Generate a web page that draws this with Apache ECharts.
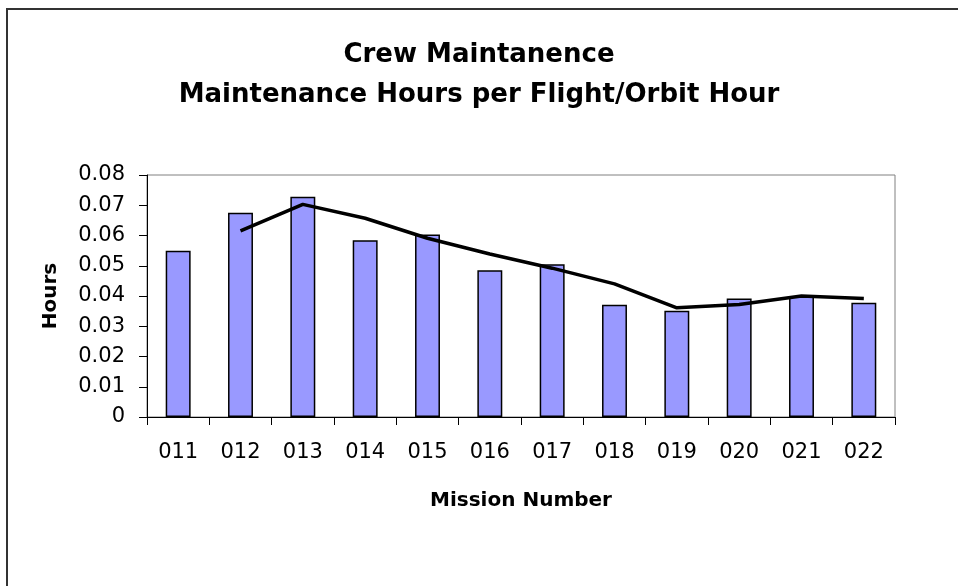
<!DOCTYPE html>
<html>
<head>
<meta charset="utf-8">
<script src="https://cdn.jsdelivr.net/npm/echarts@6/dist/echarts.min.js"></script>
<style>
  html, body { margin: 0; padding: 0; background: #fff; }
  #chart { width: 958px; height: 586px; }
</style>
</head>
<body>
<div id="chart"></div>
<script>
// mission numbers on the x axis
var missions = ['011', '012', '013', '014', '015', '016', '017', '018', '019', '020', '021', '022']
// maintenance hours per flight/orbit hour (bars)
var hours = [0.055, 0.0675, 0.0728, 0.0584, 0.0603, 0.0485, 0.0505, 0.0371, 0.0351, 0.0392, 0.0398, 0.0378]
// trend line (starts at 012)
var trend = ['-', 0.0615, 0.0703, 0.0657, 0.0591, 0.0539, 0.0492, 0.044, 0.0361, 0.0372, 0.04, 0.0392]

var font = 'DejaVu Sans, Liberation Sans, sans-serif'
var chart = echarts.init(document.getElementById('chart'))
chart.setOption({
  backgroundColor: '#fff',
  animation: false,
  title: {
    text: 'Crew Maintanence\nMaintenance Hours per Flight/Orbit Hour',
    left: 'center',
    top: 30,
    textStyle: {
      fontFamily: font,
      fontSize: 26,
      fontWeight: 'bold',
      color: '#000',
      lineHeight: 40
    }
  },
  graphic: [{
    // outer frame
    type: 'rect',
    shape: { x: 7, y: 9, width: 1000, height: 700 },
    style: { fill: null, stroke: '#333', lineWidth: 2 },
    silent: true
  }],
  grid: {
    left: 147,
    right: 63,
    top: 175,
    bottom: 169,
    show: true,
    borderColor: '#808080',
    borderWidth: 1,
    backgroundColor: '#fff'
  },
  xAxis: {
    type: 'category',
    data: missions,
    name: 'Mission Number',
    nameLocation: 'middle',
    nameGap: 74,
    nameTextStyle: { fontFamily: font, fontSize: 20, fontWeight: 'bold', color: '#000' },
    axisLine: { lineStyle: { color: '#000', width: 1 } },
    axisTick: { show: true, length: 8, lineStyle: { color: '#000' } },
    axisLabel: { fontFamily: font, fontSize: 21, color: '#000', margin: 25 },
    splitLine: { show: false }
  },
  yAxis: {
    type: 'value',
    min: 0,
    max: 0.08,
    interval: 0.01,
    name: 'Hours',
    nameLocation: 'middle',
    nameGap: 86,
    nameRotate: 90,
    nameTextStyle: { fontFamily: font, fontSize: 20, fontWeight: 'bold', color: '#000' },
    axisLine: { show: true, lineStyle: { color: '#000', width: 1 } },
    axisTick: { show: true, length: 8, lineStyle: { color: '#000' } },
    axisLabel: {
      fontFamily: font,
      fontSize: 21,
      color: '#000',
      margin: 22,
      formatter: function (v) { return v === 0 ? '0' : v.toFixed(2) }
    },
    splitLine: { show: false }
  },
  series: [
    {
      name: 'Hours',
      type: 'bar',
      data: hours,
      barWidth: '40%',
      itemStyle: { color: '#9999FF', borderColor: '#000', borderWidth: 1.5 }
    },
    {
      name: 'Trend',
      type: 'line',
      data: trend,
      showSymbol: false,
      symbol: 'none',
      lineStyle: { color: '#000', width: 3.5 },
      z: 5
    }
  ]
})
</script>
</body>
</html>
